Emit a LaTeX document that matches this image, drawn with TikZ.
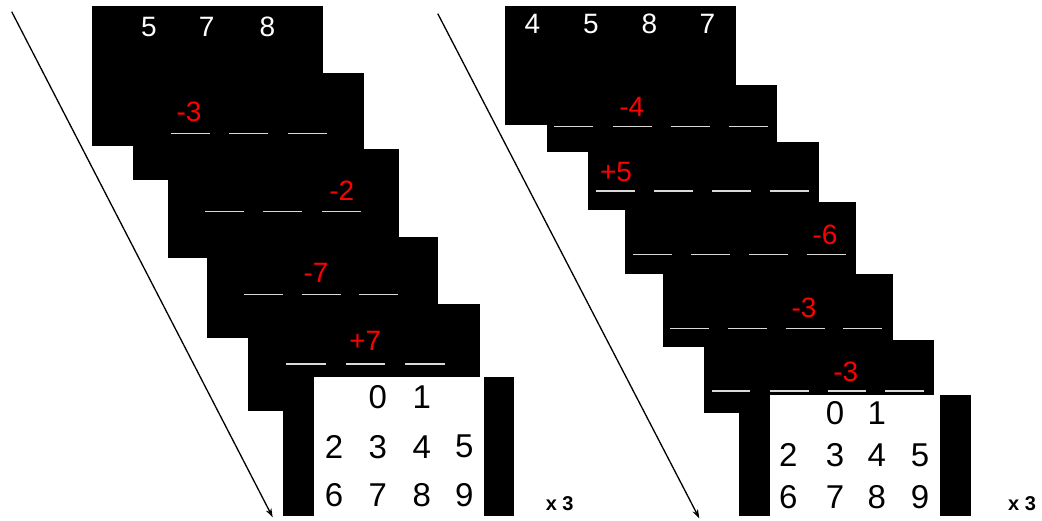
\documentclass[tikz,border=0pt]{standalone}
\usepackage{fontspec}
\setmainfont{Liberation Sans}
\usetikzlibrary{arrows.meta}
\begin{document}
\begin{tikzpicture}[x=1pt,y=-1pt,
  card/.style={fill=black},
  ul/.style={draw=white!85!black, line width=1.5pt},
  wd/.style={text=white, font=\fontsize{28}{28}\selectfont, inner sep=0pt},
  rd/.style={text=red, font=\fontsize{28}{28}\selectfont, inner sep=0pt},
  bd/.style={text=black, font=\fontsize{33}{33}\selectfont, inner sep=0pt},
  times/.style={text=black, font=\bfseries\fontsize{20}{20}\selectfont, inner sep=0pt},
  flow/.style={draw=black, line width=1.3pt, -{Stealth[length=9pt,width=6pt]}}]
\useasboundingbox[fill=white] (0,0) rectangle (1042,520);

% ---------------- left panel ----------------
\fill[card] (91.7,5.7) rectangle (322.7,145.7);
\node[wd] (l5) at (149,27.3) {5};
\node[wd] (l7) at (206.7,27.3) {7};
\node[wd] (l8) at (267.3,27.3) {8};

\fill[card] (132.7,73.3) rectangle (364,180);
\node[rd] (lm3) at (189,111.7) {-3};
\foreach \a in {170.7,229.3,288.3} \draw[ul] (\a,133.3) -- ++(39,0);

\fill[card] (167.7,149) rectangle (399,258);
\node[rd] (lm2) at (341.7,190.7) {-2};
\foreach \a in {205,263.3,322} \draw[ul] (\a,211.7) -- ++(39,0);

\fill[card] (207.3,236.7) rectangle (438.3,338.3);
\node[rd] (lm7) at (316,273.3) {-7};
\foreach \a in {244,301.7,359.3} \draw[ul] (\a,294.3) -- ++(39,0);

\fill[card] (248.3,304) rectangle (480,410.7);
\node[rd] (lp7) at (365.3,341) {+7};
\foreach \a in {286,345.7,405} \draw[ul] (\a,364) -- ++(39.5,0);

\fill[card] (283.3,376.7) rectangle (514.3,516);
\fill[white] (314,376.7) rectangle (484,516);
\node[bd] (la0) at (377.7,396.7) {0};
\node[bd] (la1) at (421.7,396.7) {1};
\node[bd] (la2) at (334,446.7) {2};
\node[bd] (la3) at (377.7,446.7) {3};
\node[bd] (la4) at (421.7,446.7) {4};
\node[bd] (la5) at (464.3,446.7) {5};
\node[bd] (la6) at (334,495) {6};
\node[bd] (la7) at (377.7,495) {7};
\node[bd] (la8) at (421.7,495) {8};
\node[bd] (la9) at (464.3,495) {9};
\node[times] (lx) at (559.7,503.3) {x 3};

\coordinate (lstart) at (11.7,11.7);
\coordinate (lend) at (272.7,517.3);
\draw[flow] (lstart) -- (lend);

% ---------------- right panel ----------------
\fill[card] (505,5.7) rectangle (736,125);
\node[wd] (r4) at (532.3,24) {4};
\node[wd] (r5) at (591,24) {5};
\node[wd] (r8) at (649.3,24) {8};
\node[wd] (r7) at (707.3,24) {7};

\fill[card] (547.3,85) rectangle (776.7,152.3);
\node[rd] (rm4) at (631.7,107.3) {-4};
\foreach \a in {554.3,612.7,670.7,728.7} \draw[ul] (\a,126.7) -- ++(39,0);

\fill[card] (588.3,141.7) rectangle (819.3,210);
\node[rd] (rp5) at (616,171.7) {+5};
\foreach \a in {596,654,712,770} \draw[ul] (\a,191) -- ++(39,0);

\fill[card] (625,201.7) rectangle (856,274.3);
\node[rd] (rm6) at (825,235) {-6};
\foreach \a in {632.7,691,749,806.7} \draw[ul] (\a,254.3) -- ++(39,0);

\fill[card] (662.7,274.3) rectangle (892.7,347.3);
\node[rd] (rm3a) at (804,308.3) {-3};
\foreach \a in {670,727.7,785.7,843.3} \draw[ul] (\a,328.3) -- ++(39,0);

\fill[card] (704,340) rectangle (934.3,412.7);
\node[rd] (rm3b) at (845.7,371.7) {-3};
\foreach \a in {711.7,770,827.7,885} \draw[ul] (\a,391) -- ++(38.5,0);

\fill[card] (739.3,395) rectangle (970.7,516);
\fill[white] (770,395) rectangle (940,516);
\node[bd] (ra0) at (835,413.3) {0};
\node[bd] (ra1) at (876.7,413.3) {1};
\node[bd] (ra2) at (788.3,455) {2};
\node[bd] (ra3) at (835,455) {3};
\node[bd] (ra4) at (876.7,455) {4};
\node[bd] (ra5) at (920,455) {5};
\node[bd] (ra6) at (788.3,496.7) {6};
\node[bd] (ra7) at (835,496.7) {7};
\node[bd] (ra8) at (876.7,496.7) {8};
\node[bd] (ra9) at (920,496.7) {9};
\node[times] (rx) at (1022,503.3) {x 3};

\coordinate (rstart) at (437.8,13.7);
\coordinate (rend) at (699.3,518.3);
\draw[flow] (rstart) -- (rend);
\end{tikzpicture}
\end{document}
